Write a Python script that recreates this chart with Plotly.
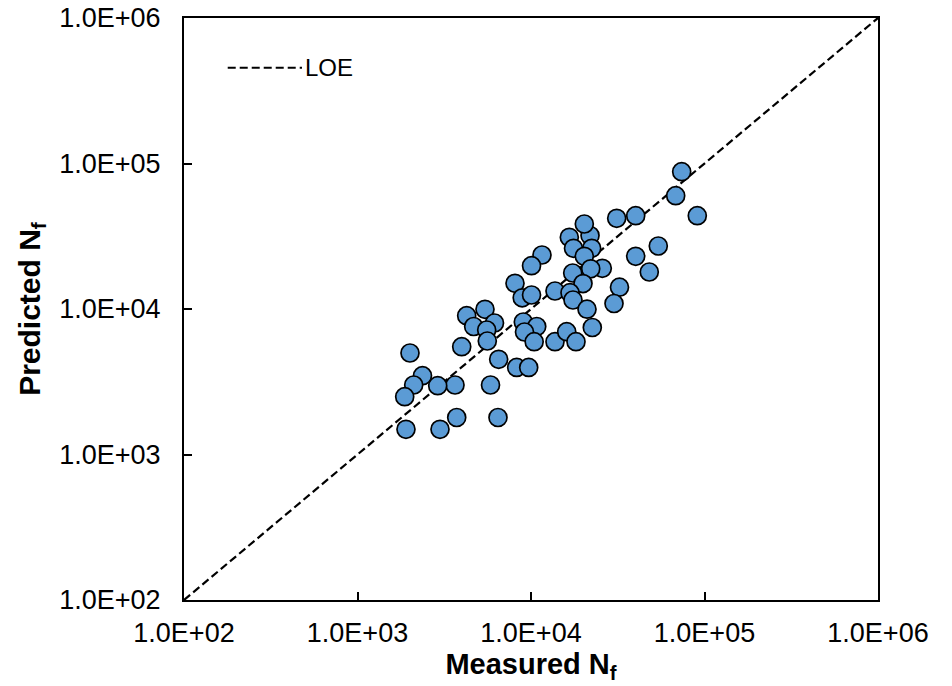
import plotly.graph_objects as go

# Measured vs predicted fatigue life (cycles)
measured_nf = [
    16630, 21890, 17580, 22380, 20290, 25760, 22090, 17390, 19940, 11570,
    10070, 8087, 8899, 10070, 13750, 16780, 17460, 21030, 22560, 40130,
    54160, 48060, 32360, 30090, 4259, 5430, 4673, 6161, 5554, 5600,
    3987, 9028, 10790, 9174, 10430, 13750, 16060, 18170, 6512, 8271,
    9699, 3648, 5844, 2007, 2369, 2108, 1871, 2899, 1903, 2989,
    3731, 6453, 73880, 68230, 90880, 31180, 40130, 20290,
]
predicted_nf = [
    31100, 32010, 26140, 26140, 23030, 19040, 18890, 17680, 14950, 23500,
    19840, 15020, 11940, 12480, 13300, 12940, 11530, 9968, 7464, 23030,
    27100, 17960, 14120, 10910, 8995, 9952, 7582, 8011, 7173, 6027,
    5508, 8140, 7582, 6949, 5961, 5961, 6982, 5961, 4511, 3968,
    3968, 3004, 3004, 4985, 3479, 3004, 2496, 2971, 1490, 1490,
    1796, 1796, 87830, 60080, 43770, 42010, 43770, 38390,
]
loe_x = [1e2, 1e6]
loe_y = [1e2, 1e6]
tick_vals = [1e2, 1e3, 1e4, 1e5, 1e6]
tick_text = ["1.0E+02", "1.0E+03", "1.0E+04", "1.0E+05", "1.0E+06"]

FONT = "Arial, 'Liberation Sans', sans-serif"
DASH = "8px,4px"

fig = go.Figure()
fig.add_trace(go.Scatter(
    x=loe_x, y=loe_y, mode="lines", name="LOE",
    line=dict(color="black", width=2.2, dash=DASH),
    showlegend=False, hoverinfo="skip",
))
fig.add_trace(go.Scatter(
    x=measured_nf, y=predicted_nf, mode="markers", name="Data",
    marker=dict(size=18, color="#5B9BD5", line=dict(color="black", width=1.7)),
    showlegend=False,
))

axis_common = dict(
    type="log",
    tickvals=tick_vals,
    ticktext=tick_text,
    ticks="inside",
    ticklen=8,
    tickwidth=1.5,
    tickcolor="black",
    showline=True,
    linecolor="black",
    linewidth=2,
    mirror=True,
    showgrid=False,
    zeroline=False,
    automargin=False,
    tickfont=dict(family=FONT, size=27, color="black"),
)

fig.update_xaxes(
    range=[2, 6],
    title=dict(text="<b>Measured N<sub>f</sub></b>",
               font=dict(family=FONT, size=29, color="black"), standoff=0),
    ticklabelstandoff=8,
    **axis_common,
)
fig.update_yaxes(
    range=[2, 6],
    title=dict(text="<b>Predicted N<sub>f</sub></b>",
               font=dict(family=FONT, size=30, color="black"), standoff=10),
    ticklabelstandoff=16,
    **axis_common,
)

# Legend key for the line of equality
fig.add_shape(type="line", xref="paper", yref="paper",
              x0=0.063, x1=0.17, y0=0.9145, y1=0.9145,
              line=dict(color="black", width=2, dash=DASH))
fig.add_annotation(xref="paper", yref="paper", x=0.172, y=0.9145,
                   text="LOE", showarrow=False, xanchor="left", yanchor="middle",
                   font=dict(family=FONT, size=24, color="black"))

fig.update_layout(
    width=952, height=686,
    margin=dict(l=184, r=74, t=18, b=86),
    paper_bgcolor="white",
    plot_bgcolor="white",
    font=dict(family=FONT, color="black"),
)

fig.write_html("out.html")
